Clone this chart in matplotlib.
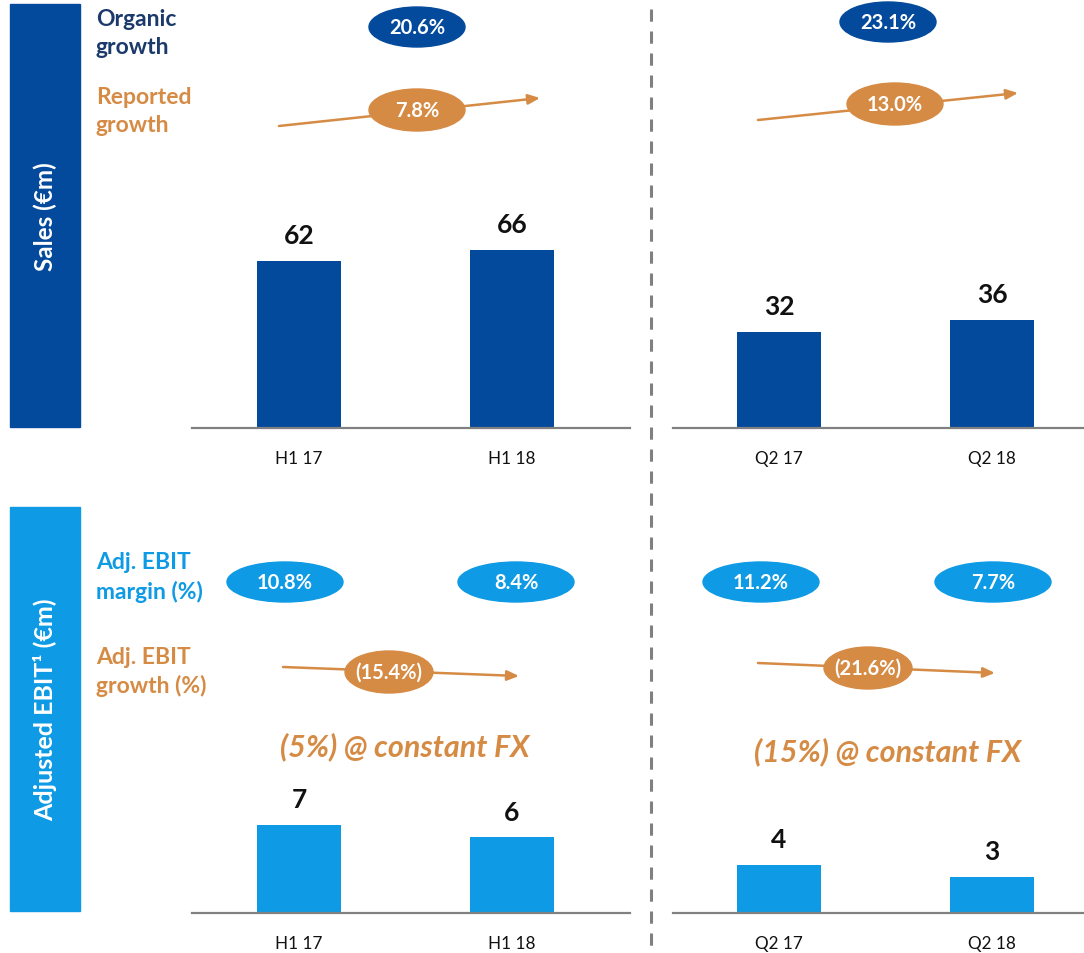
import matplotlib
matplotlib.use("Agg")
import matplotlib.pyplot as plt
from matplotlib.patches import Ellipse, Rectangle

plt.rcParams['font.family'] = ['Lato', 'DejaVu Sans']

# ---------------- data ----------------
half_labels = ["H1 17", "H1 18"]
quarter_labels = ["Q2 17", "Q2 18"]
sales_half = [62, 66]
sales_quarter = [32, 36]
ebit_half = [7, 6]
ebit_quarter = [4, 3]
organic_growth = ["20.6%", "23.1%"]
reported_growth = ["7.8%", "13.0%"]
ebit_margin_half = ["10.8%", "8.4%"]
ebit_margin_quarter = ["11.2%", "7.7%"]
ebit_growth = ["(15.4%)", "(21.6%)"]
constant_fx = ["(5%) @ constant FX", "(15%) @ constant FX"]

# ---------------- style ----------------
DARK = "#044a9c"
NAVY = "#1b3a6b"
LIGHT = "#0e9ae4"
ORANGE = "#d68b45"
GRAY = "#808080"

W, H = 1084, 954
fig = plt.figure(figsize=(W / 100, H / 100), dpi=100)


def px_axes(x0, ytop, x1, ybot):
    return fig.add_axes([x0 / W, 1 - ybot / H, (x1 - x0) / W, (ybot - ytop) / H])


def bar_panel(x0, x1, ytop, ybot, center0, spacing, pxunit, labels, values, color, label_y_px):
    ax = px_axes(x0, ytop, x1, ybot)
    xs = list(range(len(values)))
    ax.bar(xs, values, width=84 / spacing, color=color, zorder=2)
    ax.set_xlim(-(center0 - x0) / spacing, (x1 - center0) / spacing)
    ax.set_ylim(0, (ybot - ytop) / pxunit)
    for s in ["top", "right", "left"]:
        ax.spines[s].set_visible(False)
    ax.spines["bottom"].set_color(GRAY)
    ax.spines["bottom"].set_linewidth(1.6)
    ax.set_yticks([])
    ax.set_xticks(xs)
    ax.set_xticklabels(labels, fontsize=12.3, color="#111111")
    ax.tick_params(axis="x", length=0, pad=label_y_px)
    ax.patch.set_alpha(0)
    for x, v in zip(xs, values):
        ax.annotate(f"{v}", (x, v), xytext=(0, 10), textcoords="offset points",
                    ha="center", va="bottom", fontsize=19, fontweight="bold", color="#111111")
    return ax


bar_panel(192, 630, 140, 429, 299, 213, 2.7, half_labels, sales_half, DARK, 16)
bar_panel(673, 1084, 140, 429, 779, 213, 3.0, quarter_labels, sales_quarter, DARK, 16)
bar_panel(192, 630, 780, 914, 299, 213, 12.6, half_labels, ebit_half, LIGHT, 16)
bar_panel(673, 1084, 780, 914, 779, 213, 12.0, quarter_labels, ebit_quarter, LIGHT, 16)

# overlay in pixel coordinates
ov = fig.add_axes([0, 0, 1, 1], zorder=10)
ov.set_xlim(0, W)
ov.set_ylim(H, 0)
ov.axis("off")
ov.patch.set_alpha(0)

# side bars
ov.add_patch(Rectangle((10, 5), 70, 423, color=DARK))
ov.add_patch(Rectangle((10, 508), 70, 404, color=LIGHT))
ov.text(45, 217, "Sales (€m)", rotation=90, ha="center", va="center",
        color="white", fontsize=17.5, fontweight="bold")
ov.text(45, 710, "Adjusted EBIT¹ (€m)", rotation=90, ha="center", va="center",
        color="white", fontsize=18, fontweight="bold")

# dashed divider
ov.plot([651, 651], [10, 948], color=GRAY, lw=2.2, ls=(0, (4, 3.2)))

# left-hand labels
def two_lines(x, y1, y2, a, b, color):
    ov.text(x, y1, a, ha="left", va="center", fontsize=16.5, fontweight="bold", color=color)
    ov.text(x, y2, b, ha="left", va="center", fontsize=16.5, fontweight="bold", color=color)

two_lines(96, 20, 47, "Organic", "growth", NAVY)
two_lines(96, 98, 126, "Reported", "growth", ORANGE)
two_lines(96, 563, 592, "Adj. EBIT", "margin (%)", LIGHT)
two_lines(96, 658, 686, "Adj. EBIT", "growth (%)", ORANGE)


def pill(cx, cy, w, h, color, txt, fs=14.5):
    ov.add_patch(Ellipse((cx, cy), w, h, color=color, zorder=5))
    ov.text(cx, cy, txt, ha="center", va="center", color="white",
            fontsize=fs, fontweight="bold", zorder=6)


def arrow(x0, y0, x1, y1):
    ov.annotate("", xy=(x1, y1), xytext=(x0, y0),
                arrowprops=dict(arrowstyle="-|>,head_length=0.7,head_width=0.3",
                                color=ORANGE, lw=1.8, shrinkA=0, shrinkB=0), zorder=3)


# sales pills
pill(417, 28, 96, 40, DARK, organic_growth[0])
pill(888, 23, 96, 40, DARK, organic_growth[1])
arrow(279, 127, 540, 99)
pill(417, 111, 96, 42, ORANGE, reported_growth[0])
arrow(758, 121, 1018, 94)
pill(895, 105, 96, 42, ORANGE, reported_growth[1])

# EBIT pills
pill(285, 583, 116, 40, LIGHT, ebit_margin_half[0])
pill(516, 583, 116, 40, LIGHT, ebit_margin_half[1])
pill(761, 583, 116, 40, LIGHT, ebit_margin_quarter[0])
pill(993, 583, 116, 40, LIGHT, ebit_margin_quarter[1])
arrow(283, 668, 519, 677)
pill(389, 673, 88, 42, ORANGE, ebit_growth[0])
arrow(758, 664, 995, 674)
pill(868, 669, 88, 42, ORANGE, ebit_growth[1])

ov.text(405, 747, constant_fx[0], ha="center", va="center", fontsize=22,
        fontstyle="italic", fontweight="bold", color=ORANGE)
ov.text(888, 752, constant_fx[1], ha="center", va="center", fontsize=22,
        fontstyle="italic", fontweight="bold", color=ORANGE)

fig.savefig("out.png", dpi=100)
